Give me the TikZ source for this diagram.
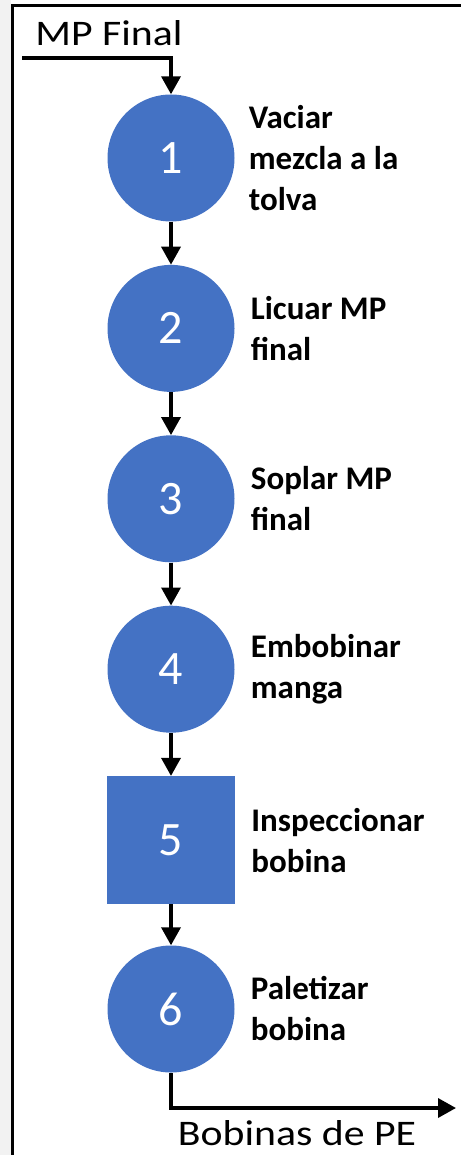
\documentclass[tikz,border=0pt]{standalone}
\usepackage{fontspec}
\setmainfont{Carlito}
\usetikzlibrary{positioning, arrows.meta}
\definecolor{opblue}{HTML}{4472C4}

\begin{document}
\begin{tikzpicture}[
    x=1pt, y=-1pt,
    arrow/.style={-{Triangle[length=18pt, width=19pt]}, line width=3.5pt},
    opcirc/.style={circle, fill=opblue, minimum size=127pt, inner sep=0pt, text=white, font=\fontsize{48}{48}\selectfont},
    opsquare/.style={rectangle, fill=opblue, minimum size=128pt, inner sep=0pt, text=white, font=\fontsize{48}{48}\selectfont},
    optext/.style={align=left, inner sep=0pt, font=\bfseries\fontsize{33}{41}\selectfont},
    iotext/.style={inner sep=0pt, font=\fontsize{36}{36}\selectfont}
]
    \useasboundingbox (0,0) rectangle (461,1155);

    % Frame
    \fill[black!5] (0,0) rectangle (11,1155);
    \draw[line width=3pt] (12,1155) -- (12,6) -- (461,6);

    % Operations
    \node[opcirc] (c1) at (171,158) {1};
    \node[opcirc, below=43pt of c1] (c2) {2};
    \node[opcirc, below=43pt of c2] (c3) {3};
    \node[opcirc, below=43pt of c3] (c4) {4};
    \node[opsquare, below=43pt of c4] (c5) {5};
    \node[opcirc, below=41pt of c5] (c6) {6};

    % Operation names
    \node[optext, right=14pt of c1] (t1) {Vaciar\\mezcla a la\\tolva};
    \node[optext, right=16pt of c2] (t2) {Licuar MP\\final};
    \node[optext, right=16pt of c3] (t3) {Soplar MP\\final};
    \node[optext, right=16pt of c4] (t4) {Embobinar\\manga};
    \node[optext, right=16pt of c5] (t5) {Inspeccionar\\bobina};
    \node[optext, right=16pt of c6] (t6) {Paletizar\\bobina};

    % Flow
    \draw[arrow] (c1) -- (c2);
    \draw[arrow] (c2) -- (c3);
    \draw[arrow] (c3) -- (c4);
    \draw[arrow] (c4) -- (c5);
    \draw[arrow] (c5) -- (c6);

    % Input and output
    \coordinate (in) at (22,58);
    \coordinate (out) at (456,1108);
    \draw[arrow] (in) -| (c1.north);
    \draw[arrow] (c6.south) |- (out);
    \node[iotext] (mp) at (109,33) {\scalebox{1.16}[1]{MP Final}};
    \node[iotext] (pe) at (297,1133) {\scalebox{1.16}[1]{Bobinas de PE}};

\end{tikzpicture}
\end{document}
